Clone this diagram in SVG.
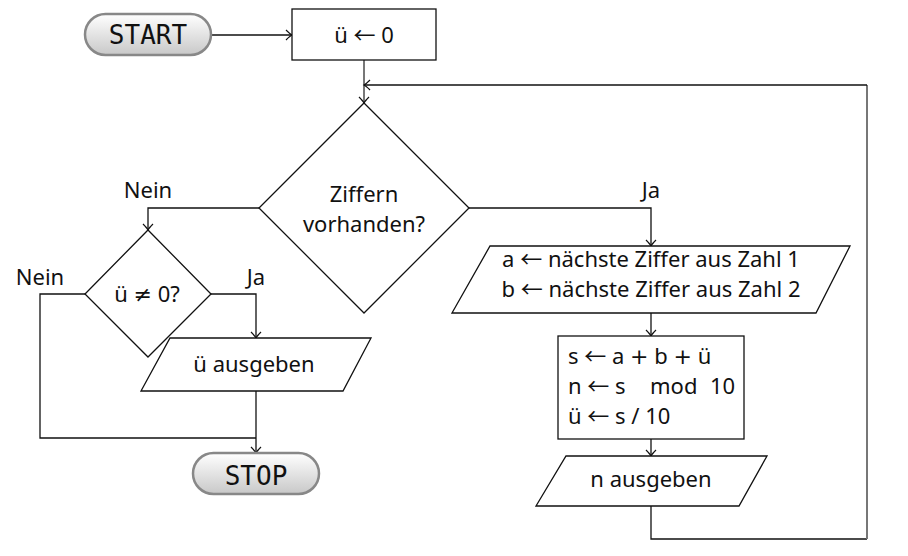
<svg xmlns="http://www.w3.org/2000/svg" width="908" height="556" viewBox="0 0 908 556">
<defs>
<linearGradient id="term" x1="0" y1="0" x2="0" y2="1">
<stop offset="0" stop-color="#ffffff"/>
<stop offset="1" stop-color="#c8c8c8"/>
</linearGradient>
<marker id="arr" viewBox="-8 -6 10 12" markerWidth="10" markerHeight="12" refX="0" refY="0" orient="auto" markerUnits="userSpaceOnUse">
<path d="M-6,-5 Q-2,-1 0,0 Q-2,1 -6,5" fill="none" stroke="#111" stroke-width="1.2"/>
</marker>
<style>
.t{font-family:"Noto Sans","Open Sans",sans-serif;font-size:22px;fill:#111}
.s{font-family:"DejaVu Sans",sans-serif;font-weight:normal}
.a{font-family:"Noto Sans CJK SC","DejaVu Sans",sans-serif;font-size:22px}
.m{font-family:"DejaVu Sans Mono","Liberation Mono",monospace;font-size:26px;fill:#111}
.n{fill:#fff;stroke:#111;stroke-width:1.3}
.term{fill:url(#term);stroke:#888;stroke-width:2.5}
.c{fill:none;stroke:#111;stroke-width:1.3}
.g{fill:none;stroke:#777;stroke-width:2}
</style>
</defs>
<rect width="908" height="556" fill="#fff"/>
<g id="connectors">
<path class="c" d="M212,35 H292" marker-end="url(#arr)"/>
<path class="g" d="M364,60 V103" marker-end="url(#arr)"/>
<path class="c" d="M651,506 V539 H867"/>
<path class="g" d="M867,539 V85"/>
<path class="c" d="M867,85 H364" marker-end="url(#arr)"/>
<path class="c" d="M259,208 H148 V230" marker-end="url(#arr)"/>
<path class="c" d="M469,208 H651 V246" marker-end="url(#arr)"/>
<path class="c" d="M211,294 H256 V338" marker-end="url(#arr)"/>
<path class="c" d="M85,294 H40 V438 H256"/>
<path class="c" d="M256,391 V453" marker-end="url(#arr)"/>
<path class="c" d="M651,313 V336" marker-end="url(#arr)"/>
<path class="c" d="M651,439 V456" marker-end="url(#arr)"/>
<text class="t" x="148" y="198" text-anchor="middle">Nein</text>
<text class="t" x="651" y="198" text-anchor="middle">Ja</text>
<text class="t" x="40" y="285" text-anchor="middle">Nein</text>
<text class="t" x="256" y="285" text-anchor="middle">Ja</text>
</g>
<g id="start">
<rect class="term" x="85" y="14" width="126" height="41" rx="20.5"/>
<text class="m" x="148" y="44" text-anchor="middle">START</text>
</g>
<g id="init">
<rect class="n" x="292" y="9" width="144" height="51"/>
<text class="t" x="364" y="43" text-anchor="middle">ü <tspan class="a">←</tspan> 0</text>
</g>
<g id="dec-digits">
<polygon class="n" points="364,103 469,208 364,313 259,208"/>
<text class="t" x="364" y="202" text-anchor="middle">Ziffern</text>
<text class="t" x="364" y="232" text-anchor="middle">vorhanden?</text>
</g>
<g id="dec-carry">
<polygon class="n" points="148,230 211,294 148,357 85,294"/>
<text class="t" x="147" y="302" text-anchor="middle">ü <tspan class="s">≠</tspan> 0?</text>
</g>
<g id="out-carry">
<polygon class="n" points="170,338 371,338 343,391 141,391"/>
<text class="t" x="254" y="372" text-anchor="middle">ü ausgeben</text>
</g>
<g id="stop">
<rect class="term" x="193" y="453" width="126" height="41" rx="20.5"/>
<text class="m" x="256" y="485" text-anchor="middle">STOP</text>
</g>
<g id="input">
<polygon class="n" points="490,246 850,246 816,313 452,313"/>
<text class="t" x="651" y="267" text-anchor="middle">a <tspan class="a">←</tspan> nächste Ziffer aus Zahl 1</text>
<text class="t" x="651" y="297" text-anchor="middle">b <tspan class="a">←</tspan> nächste Ziffer aus Zahl 2</text>
</g>
<g id="process">
<rect class="n" x="558" y="336" width="186" height="103"/>
<text class="t" x="568" y="364">s <tspan class="a">←</tspan> a <tspan class="s">+</tspan> b <tspan class="s">+</tspan> ü</text>
<text class="t" y="394"><tspan x="568">n <tspan class="a">←</tspan> s</tspan><tspan x="650">mod</tspan><tspan x="710">10</tspan></text>
<text class="t" x="568" y="424">ü <tspan class="a">←</tspan> s / 10</text>
</g>
<g id="out-digit">
<polygon class="n" points="566,456 767,456 739,506 536,506"/>
<text class="t" x="651" y="487" text-anchor="middle">n ausgeben</text>
</g>
</svg>
